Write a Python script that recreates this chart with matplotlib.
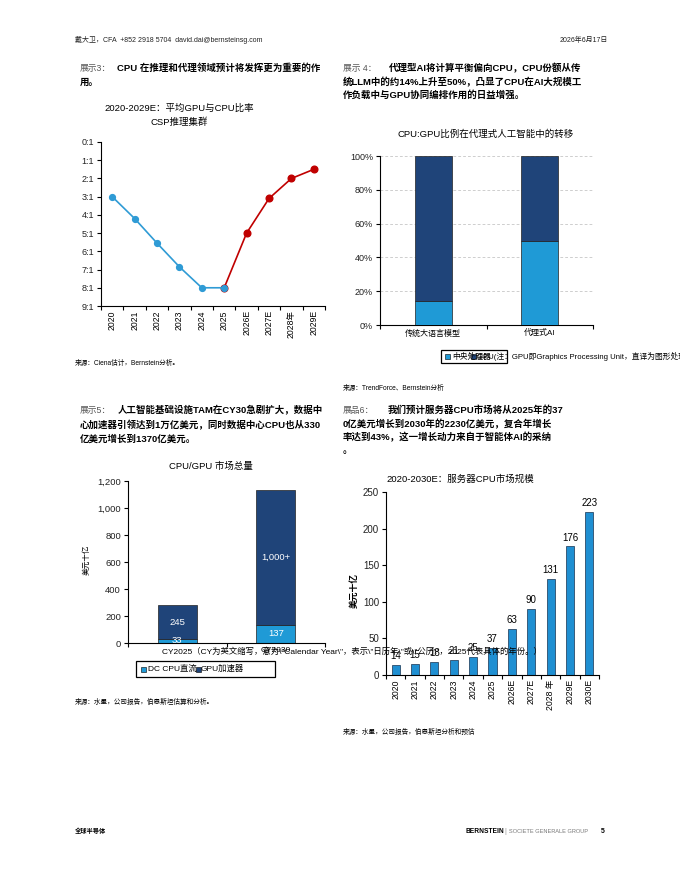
import matplotlib
matplotlib.use('Agg')
import matplotlib.pyplot as plt
import matplotlib.patches as patches
import matplotlib.transforms as mtransforms

plt.rcParams['font.family'] = ['Liberation Sans', 'Noto Sans CJK SC', 'DejaVu Sans']
plt.rcParams['axes.linewidth'] = 0.8

W, H = 680, 880

# exhibit 3: GPU:CPU ratio (x:1)
ratio_years = ['2020', '2021', '2022', '2023', '2024', '2025', '2026E', '2027E', '2028年', '2029E']
ratio_vals = [3.0, 4.2, 5.55, 6.85, 8.0, 8.0, 5.0, 3.1, 2.0, 1.5]
ratio_ticks = ['0:1', '1:1', '2:1', '3:1', '4:1', '5:1', '6:1', '7:1', '8:1', '9:1']

# exhibit 4: CPU vs GPU share (%)
shift_cats = ['传统大语言模型', '代理式AI']
shift_cpu = [14, 50]
shift_gpu = [86, 50]

# exhibit 5: CPU/GPU TAM (USD bn)
tam_cats = ['CY2025（CY为英文缩写，意为\\"Calendar Year\\"，表示\\"日历年\\"或\\"公历\\"，2025代表具体的年份。）',
            'CY2030']
tam_cpu = [33, 137]
tam_gpu = [245, 1000]
tam_gpu_labels = ['245', '1,000+']

# exhibit 6: server CPU market (USD bn)
srv_years = ['2020', '2021', '2022', '2023', '2024', '2025', '2026E', '2027E', '2028 年', '2029E', '2030E']
srv_vals = [14, 15, 18, 21, 25, 37, 63, 90, 131, 176, 223]

blue = '#2f9bd5'
red = '#c00000'
cpu_col = '#1f9ad6'
gpu_col = '#1f4479'
grey = '#555555'


def fx(x):
    return x / W


def fy(y):
    return 1 - y / H


def box(l, t, r, b):
    return [fx(l), fy(b), (r - l) / W, (b - t) / H]


fig = plt.figure(figsize=(6.8, 8.8), dpi=100)


def txt(x, y, s, **kw):
    kw.setdefault('va', 'center')
    fig.text(fx(x), fy(y), s, **kw)


# header / footer
txt(75, 40, '戴大卫，CFA  +852 2918 5704  david.dai@bernsteinsg.com', fontsize=5, color='#222222')
txt(608, 40, '2026年6月17日', fontsize=5, ha='right', color='#222222')
txt(75, 831, '全球半导体', fontsize=4.5, weight='bold')
txt(466, 831, 'BERNSTEIN', fontsize=4.8, weight='bold')
txt(504, 831, '|', fontsize=5, color='#999999')
txt(509, 831, 'SOCIETE GENERALE GROUP', fontsize=4.1, color='#777777')
txt(605, 831, '5', fontsize=5, weight='bold', ha='right')

# exhibit headings
tfs = 6.8
txt(80, 68, '展示3：', fontsize=6.3, color=grey)
txt(117, 68, 'CPU 在推理和代理领域预计将发挥更为重要的作', fontsize=tfs, weight='bold')
txt(80, 82, '用。', fontsize=tfs, weight='bold')

txt(343, 68, '展示 4：', fontsize=6.3, color=grey)
txt(389, 68, '代理型AI将计算平衡偏向CPU，CPU份额从传', fontsize=tfs, weight='bold')
txt(343, 82, '统LLM中的约14%上升至50%，凸显了CPU在AI大规模工', fontsize=tfs, weight='bold')
txt(343, 95, '作负载中与GPU协同编排作用的日益增强。', fontsize=tfs, weight='bold')

txt(80, 410, '展示5：', fontsize=6.3, color=grey)
txt(118, 410, '人工智能基础设施TAM在CY30急剧扩大，数据中', fontsize=tfs, weight='bold')
txt(80, 425, '心加速器引领达到1万亿美元，同时数据中心CPU也从330', fontsize=tfs, weight='bold')
txt(80, 439, '亿美元增长到1370亿美元。', fontsize=tfs, weight='bold')

txt(343, 410, '展品6：', fontsize=6.3, color=grey)
txt(388, 410, '我们预计服务器CPU市场将从2025年的37', fontsize=tfs, weight='bold')
txt(343, 424, '0亿美元增长到2030年的2230亿美元，复合年增长', fontsize=tfs, weight='bold')
txt(343, 437, '率达到43%，这一增长动力来自于智能体AI的采纳', fontsize=tfs, weight='bold')
txt(343, 450, '。', fontsize=tfs, weight='bold')

# sources
txt(75, 363, '来源：Ciena估计，Bernstein分析。', fontsize=4.8)
txt(343, 388, '来源：TrendForce、Bernstein分析', fontsize=4.8)
txt(75, 702, '来源：水星，公司报告，伯恩斯坦估算和分析。', fontsize=4.8)
txt(343, 732, '来源：水星，公司报告，伯恩斯坦分析和预估', fontsize=4.8)

# chart titles
txt(179, 108, '2020-2029E：平均GPU与CPU比率', fontsize=6.8, ha='center')
txt(179, 122, 'CSP推理集群', fontsize=6.8, ha='center')
txt(486, 134, 'CPU:GPU比例在代理式人工智能中的转移', fontsize=6.8, ha='center')
txt(211, 466, 'CPU/GPU 市场总量', fontsize=6.8, ha='center')
txt(460, 479, '2020-2030E：服务器CPU市场规模', fontsize=6.8, ha='center')


def style(ax, n, ysize):
    for s in ['top', 'right']:
        ax.spines[s].set_visible(False)
    ax.set_xlim(-0.5, n - 0.5)
    ax.set_xticks(range(n))
    ax.set_xticks([i - 0.5 for i in range(n + 1)], minor=True)
    ax.tick_params(axis='x', which='major', length=0, pad=3)
    ax.tick_params(axis='x', which='minor', length=3, width=0.8, direction='out')
    ax.tick_params(axis='y', length=3, width=0.8, labelsize=ysize, pad=2, labelcolor='#222222')


# ---- exhibit 3: line
ax1 = fig.add_axes(box(101, 142, 325, 306))
x = list(range(len(ratio_years)))
ax1.plot(x[5:], ratio_vals[5:], color=red, lw=1.2, marker='o', ms=4.8, zorder=2)
ax1.plot(x[:6], ratio_vals[:6], color=blue, lw=1.2, marker='o', ms=4.2, zorder=3)
ax1.set_ylim(9, 0)
ax1.set_yticks(range(10))
ax1.set_yticklabels(ratio_ticks)
style(ax1, len(ratio_years), 6.5)
ax1.set_xticklabels(ratio_years, rotation=90, fontsize=6.2)

# ---- exhibit 4: 100% stacked
ax2 = fig.add_axes(box(380, 156, 593, 325))
x = range(len(shift_cats))
ax2.bar(x, shift_cpu, width=0.35, color=cpu_col, edgecolor='#222222', lw=0.5, zorder=3)
ax2.bar(x, shift_gpu, bottom=shift_cpu, width=0.35, color=gpu_col, edgecolor='#222222', lw=0.5, zorder=3)
ax2.set_ylim(0, 100)
ax2.set_yticks(range(0, 101, 20))
ax2.set_yticklabels(['%d%%' % v for v in range(0, 101, 20)])
ax2.yaxis.grid(True, ls=(0, (4, 3)), color='#bbbbbb', lw=0.5)
style(ax2, len(shift_cats), 6.5)
ax2.set_xticklabels(shift_cats, fontsize=5.8)

# legend (box too small for its entries, as in the original)
fig.add_artist(patches.Rectangle((fx(441), fy(363)), 66 / W, 13 / H, transform=fig.transFigure,
                                 facecolor='white', edgecolor='black', lw=0.9))
fig.add_artist(patches.Rectangle((fx(445), fy(359)), 5 / W, 5 / H, transform=fig.transFigure,
                                 facecolor=cpu_col, edgecolor='black', lw=0.4))
txt(452, 356.5, '中央处理器', fontsize=5.6)
fig.add_artist(patches.Rectangle((fx(471), fy(359)), 5 / W, 5 / H, transform=fig.transFigure,
                                 facecolor=gpu_col, edgecolor='black', lw=0.4))
txt(477, 356.5, 'GPU(注：GPU即Graphics Processing Unit，直译为图形处理器)', fontsize=5.6)

# ---- exhibit 6: server CPU bars (drawn before ex.5 so its long tick label sits on top)
ax4 = fig.add_axes(box(386, 492, 599, 675))
ax4.patch.set_alpha(0)
x = list(range(len(srv_years)))
ax4.bar(x, srv_vals, width=0.42, color='#1f8fd2', edgecolor='#16324f', lw=0.5)
for i, v in zip(x, srv_vals):
    ax4.text(i, v + 5, str(v), ha='center', va='bottom', fontsize=7)
ax4.set_ylim(0, 250)
ax4.set_yticks(range(0, 251, 50))
style(ax4, len(srv_years), 7)
ax4.set_xticklabels(srv_years, rotation=90, fontsize=6.2)
txt(354, 590, '美元十亿', fontsize=6.3, weight='bold', rotation=90, ha='center')

# ---- exhibit 5: TAM stacked
ax3 = fig.add_axes(box(128, 481, 325, 643))
ax3.set_zorder(5)
ax3.patch.set_alpha(0)
x = list(range(len(tam_cats)))
ax3.bar(x, tam_cpu, width=0.4, color=cpu_col, edgecolor='#222222', lw=0.5)
ax3.bar(x, tam_gpu, bottom=tam_cpu, width=0.4, color=gpu_col, edgecolor='#222222', lw=0.5)
for i in x:
    ax3.text(i, tam_cpu[i] / 2, str(tam_cpu[i]), ha='center', va='center', color='white', fontsize=6.8)
    ax3.text(i, tam_cpu[i] + tam_gpu[i] / 2, tam_gpu_labels[i], ha='center', va='center',
             color='white', fontsize=6.8)
ax3.set_ylim(0, 1200)
ax3.set_yticks(range(0, 1201, 200))
ax3.set_yticklabels(['{:,}'.format(v) for v in range(0, 1201, 200)])
style(ax3, len(tam_cats), 6.8)
ax3.set_xticklabels(tam_cats, fontsize=6.0)
lab0 = ax3.get_xticklabels()[0]
lab0.set_ha('left')
lab0.set_transform(lab0.get_transform() + mtransforms.ScaledTranslation(-0.15, 0, fig.dpi_scale_trans))
txt(87, 560, '美元十亿', fontsize=5.5, rotation=90, ha='center')

fig.add_artist(patches.Rectangle((fx(136), fy(677)), 139 / W, 16 / H, transform=fig.transFigure,
                                 facecolor='white', edgecolor='black', lw=0.9))
fig.add_artist(patches.Rectangle((fx(141), fy(671.5)), 5 / W, 5 / H, transform=fig.transFigure,
                                 facecolor=cpu_col, edgecolor='black', lw=0.4))
txt(148, 669, 'DC CPU直流', fontsize=6)
fig.add_artist(patches.Rectangle((fx(196), fy(671.5)), 5 / W, 5 / H, transform=fig.transFigure,
                                 facecolor=gpu_col, edgecolor='black', lw=0.4))
txt(201, 669, 'GPU加速器', fontsize=6)

fig.savefig('out.png', dpi=100)
